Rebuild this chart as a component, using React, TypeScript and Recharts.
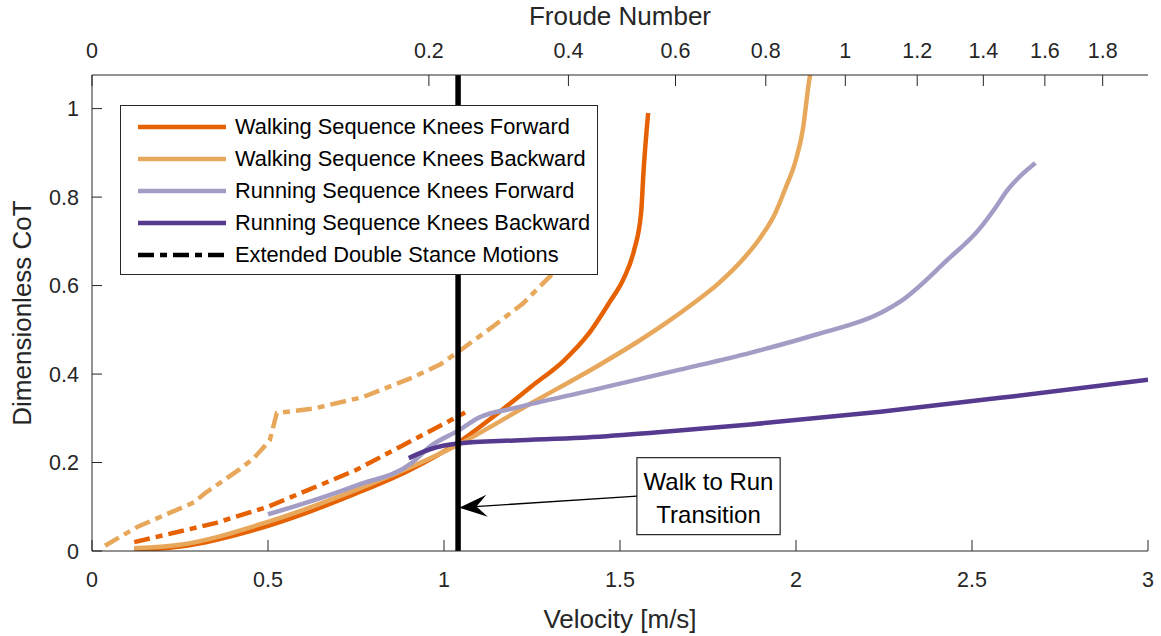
import React from "react";
import { LineChart, Line, XAxis, YAxis, ReferenceLine, ReferenceArea, Legend } from "recharts";

const FONT = '"Liberation Sans", Arial, Helvetica, sans-serif';
const AXIS = "#262626";

const DARK_ORANGE = "#E66101";
const LIGHT_ORANGE = "#E8A85C";
const LIGHT_PURPLE = "#A39DC6";
const DARK_PURPLE = "#553A8F";
const DASH_DOT = "16 6 7 6";

// velocity v [m/s] -> dimensionless cost of transport c
const walkKneesForward = [
  { v: 0.12, c: 0.002 }, { v: 0.25, c: 0.01 }, { v: 0.5, c: 0.057 }, { v: 0.75, c: 0.13 },
  { v: 0.9, c: 0.182 }, { v: 1.04, c: 0.245 }, { v: 1.15, c: 0.31 }, { v: 1.25, c: 0.373 },
  { v: 1.34, c: 0.43 }, { v: 1.41, c: 0.49 }, { v: 1.47, c: 0.562 }, { v: 1.51, c: 0.615 },
  { v: 1.54, c: 0.68 }, { v: 1.56, c: 0.765 }, { v: 1.567, c: 0.86 }, { v: 1.58, c: 0.99 },
];

const walkKneesBackward = [
  { v: 0.12, c: 0.006 }, { v: 0.25, c: 0.014 }, { v: 0.5, c: 0.066 }, { v: 0.75, c: 0.138 },
  { v: 1.04, c: 0.24 }, { v: 1.25, c: 0.335 }, { v: 1.44, c: 0.42 }, { v: 1.55, c: 0.473 },
  { v: 1.63, c: 0.515 }, { v: 1.7, c: 0.555 }, { v: 1.78, c: 0.605 }, { v: 1.85, c: 0.66 },
  { v: 1.9, c: 0.71 }, { v: 1.94, c: 0.762 }, { v: 1.97, c: 0.82 }, { v: 2.0, c: 0.885 },
  { v: 2.02, c: 0.955 }, { v: 2.035, c: 1.05 }, { v: 2.045, c: 1.1 },
];

const runKneesForward = [
  { v: 0.5, c: 0.083 }, { v: 0.6, c: 0.107 }, { v: 0.75, c: 0.148 }, { v: 0.91, c: 0.2 },
  { v: 0.96, c: 0.236 }, { v: 1.04, c: 0.272 }, { v: 1.1, c: 0.302 }, { v: 1.2, c: 0.323 },
  { v: 1.39, c: 0.358 }, { v: 1.67, c: 0.41 }, { v: 1.87, c: 0.448 }, { v: 2.06, c: 0.49 },
  { v: 2.24, c: 0.538 }, { v: 2.3, c: 0.566 }, { v: 2.43, c: 0.658 }, { v: 2.52, c: 0.727 },
  { v: 2.57, c: 0.78 }, { v: 2.6, c: 0.815 }, { v: 2.68, c: 0.877 },
];

const runKneesBackward = [
  { v: 0.9, c: 0.21 }, { v: 0.96, c: 0.23 }, { v: 1.04, c: 0.243 }, { v: 1.2, c: 0.25 },
  { v: 1.39, c: 0.256 }, { v: 1.6, c: 0.268 }, { v: 1.87, c: 0.286 }, { v: 2.24, c: 0.315 },
  { v: 2.62, c: 0.35 }, { v: 3.0, c: 0.387 },
];

const walkForwardDoubleStance = [
  { v: 0.12, c: 0.02 }, { v: 0.35, c: 0.063 }, { v: 0.5, c: 0.1 }, { v: 0.75, c: 0.183 },
  { v: 0.91, c: 0.25 }, { v: 1.06, c: 0.313 },
];

const walkBackwardDoubleStance = [
  { v: 0.037, c: 0.012 }, { v: 0.13, c: 0.055 }, { v: 0.29, c: 0.11 }, { v: 0.32, c: 0.13 },
  { v: 0.42, c: 0.185 }, { v: 0.46, c: 0.21 }, { v: 0.505, c: 0.25 }, { v: 0.525, c: 0.312 },
  { v: 0.63, c: 0.322 }, { v: 0.77, c: 0.348 }, { v: 0.91, c: 0.392 }, { v: 0.99, c: 0.422 },
  { v: 1.04, c: 0.45 }, { v: 1.14, c: 0.508 }, { v: 1.225, c: 0.56 }, { v: 1.31, c: 0.628 },
  { v: 1.38, c: 0.7 },
];

const velocityTicks = [0, 0.5, 1, 1.5, 2, 2.5, 3];
const cotTicks = [0, 0.2, 0.4, 0.6, 0.8, 1];
const froudeTicks = [0, 0.2, 0.4, 0.6, 0.8, 1, 1.2, 1.4, 1.6, 1.8];
const G_LEG = 4.58; // g * leg length, Fr = v^2 / (g L)
const froudeVelocity = froudeTicks.map((f) => Math.sqrt(f * G_LEG));

const transitionVelocity = 1.04;
const noteLines = ["Walk to Run", "Transition"];
const noteBox = { x1: 1.548, x2: 1.955, y1: 0.037, y2: 0.211 };
const arrowFrom = { x: 1.548, y: 0.124 };
const arrowTo = { x: 1.043, y: 0.098 };

const legendItems = [
  { name: "Walking Sequence Knees Forward", color: DARK_ORANGE, dash: undefined },
  { name: "Walking Sequence Knees Backward", color: LIGHT_ORANGE, dash: undefined },
  { name: "Running Sequence Knees Forward", color: LIGHT_PURPLE, dash: undefined },
  { name: "Running Sequence Knees Backward", color: DARK_PURPLE, dash: undefined },
  { name: "Extended Double Stance Motions", color: "#000", dash: DASH_DOT },
];

const LegendBox = () => (
  <div
    style={{
      width: 478,
      height: 170,
      boxSizing: "border-box",
      border: `1px solid ${AXIS}`,
      background: "#fff",
      paddingTop: 5,
      fontFamily: FONT,
      fontSize: 21.8,
      color: "#000",
    }}
  >
    {legendItems.map((it) => (
      <div key={it.name} style={{ display: "flex", alignItems: "center", height: 32 }}>
        <svg width={114} height={32} style={{ flex: "none" }}>
          <line x1={17} x2={105} y1={16} y2={16} stroke={it.color} strokeWidth={4.5} strokeDasharray={it.dash} />
        </svg>
        <span style={{ whiteSpace: "nowrap" }}>{it.name}</span>
      </div>
    ))}
  </div>
);

const NoteShape = (props: any) => {
  const { x, y, width, height } = props;
  const cx = x + width / 2;
  const cy = y + height / 2;
  return (
    <g>
      <rect x={x} y={y} width={width} height={height} fill="#fff" stroke={AXIS} strokeWidth={1.2} />
      <text x={cx} y={cy - 6.5} textAnchor="middle" fontSize={24} fill="#000" fontFamily={FONT}>
        {noteLines[0]}
      </text>
      <text x={cx} y={cy + 27} textAnchor="middle" fontSize={24} fill="#000" fontFamily={FONT}>
        {noteLines[1]}
      </text>
    </g>
  );
};

const ArrowShape = (props: any) => {
  const { x1, y1, x2, y2 } = props;
  const len = Math.hypot(x2 - x1, y2 - y1) || 1;
  const dx = (x2 - x1) / len;
  const dy = (y2 - y1) / len;
  const L = 28;
  const W = 11;
  const bx = x2 - dx * L;
  const by = y2 - dy * L;
  const head = [
    [x2, y2],
    [bx - dy * W, by + dx * W],
    [x2 - dx * L * 0.62, y2 - dy * L * 0.62],
    [bx + dy * W, by - dx * W],
  ]
    .map((p) => p.join(","))
    .join(" ");
  return (
    <g>
      <line x1={x1} y1={y1} x2={x2 - dx * 12} y2={y2 - dy * 12} stroke="#000" strokeWidth={1.3} />
      <polygon points={head} fill="#000" />
    </g>
  );
};

const tickStyle = { fill: AXIS, fontSize: 21.5, fontFamily: FONT };

export default function App() {
  return (
    <div style={{ position: "absolute", left: 0, top: 0, width: 1161, height: 636, background: "#fff", fontFamily: FONT }}>
      <LineChart width={1161} height={636} margin={{ top: 35, right: 13, bottom: 35, left: 10 }}>
        <XAxis
          dataKey="v"
          type="number"
          domain={[0, 3]}
          ticks={velocityTicks}
          interval={0}
          height={50}
          tickSize={-11}
          tickMargin={32}
          stroke={AXIS}
          tick={tickStyle}
          allowDataOverflow
          label={{ value: "Velocity [m/s]", position: "bottom", offset: 9, fontSize: 26, fill: AXIS, fontFamily: FONT }}
        />
        <XAxis
          xAxisId="froude"
          dataKey="v"
          orientation="top"
          type="number"
          domain={[0, 3]}
          ticks={froudeVelocity}
          tickFormatter={(v: number) => String(Math.round(((v * v) / G_LEG) * 10) / 10)}
          interval={0}
          height={40}
          tickSize={-11}
          tickMargin={28}
          stroke={AXIS}
          tick={tickStyle}
          allowDataOverflow
          label={{ value: "Froude Number", position: "top", offset: 10, fontSize: 26, fill: AXIS, fontFamily: FONT }}
        />
        <YAxis
          type="number"
          domain={[0, 1.076]}
          ticks={cotTicks}
          interval={0}
          width={82}
          tickSize={-10}
          tickMargin={23}
          stroke={AXIS}
          tick={tickStyle}
          allowDataOverflow
          label={{
            value: "Dimensionless CoT",
            angle: -90,
            position: "insideLeft",
            offset: 12,
            fontSize: 26,
            fill: AXIS,
            fontFamily: FONT,
            style: { textAnchor: "middle" },
          }}
        />

        {/* invisible series so the Froude axis gets a scale */}
        <Line xAxisId="froude" data={runKneesBackward} dataKey="c" stroke="none" dot={false} activeDot={false}
          legendType="none" isAnimationActive={false} />

        <Line data={walkBackwardDoubleStance} dataKey="c" type="linear" stroke={LIGHT_ORANGE} strokeWidth={4.5}
          strokeDasharray={DASH_DOT} dot={false} activeDot={false} legendType="none" isAnimationActive={false} />
        <Line data={walkForwardDoubleStance} dataKey="c" type="linear" stroke={DARK_ORANGE} strokeWidth={4.5}
          strokeDasharray={DASH_DOT} dot={false} activeDot={false} legendType="none" isAnimationActive={false} />
        <Line data={walkKneesForward} dataKey="c" name="Walking Sequence Knees Forward" type="monotoneX"
          stroke={DARK_ORANGE} strokeWidth={4.5} dot={false} activeDot={false} isAnimationActive={false} />
        <Line data={walkKneesBackward} dataKey="c" name="Walking Sequence Knees Backward" type="monotoneX"
          stroke={LIGHT_ORANGE} strokeWidth={4.5} dot={false} activeDot={false} isAnimationActive={false} />
        <Line data={runKneesForward} dataKey="c" name="Running Sequence Knees Forward" type="monotoneX"
          stroke={LIGHT_PURPLE} strokeWidth={4.5} dot={false} activeDot={false} isAnimationActive={false} />
        <Line data={runKneesBackward} dataKey="c" name="Running Sequence Knees Backward" type="monotoneX"
          stroke={DARK_PURPLE} strokeWidth={4.5} dot={false} activeDot={false} isAnimationActive={false} />

        <ReferenceLine x={transitionVelocity} stroke="#000" strokeWidth={5.5} />
        <ReferenceLine segment={[arrowFrom, arrowTo]} shape={ArrowShape} />
        <ReferenceArea x1={noteBox.x1} x2={noteBox.x2} y1={noteBox.y1} y2={noteBox.y2} shape={NoteShape} />

        <Legend
          layout="vertical"
          align="center"
          verticalAlign="middle"
          wrapperStyle={{ left: 120, top: 105 }}
          content={LegendBox}
        />
      </LineChart>
    </div>
  );
}
